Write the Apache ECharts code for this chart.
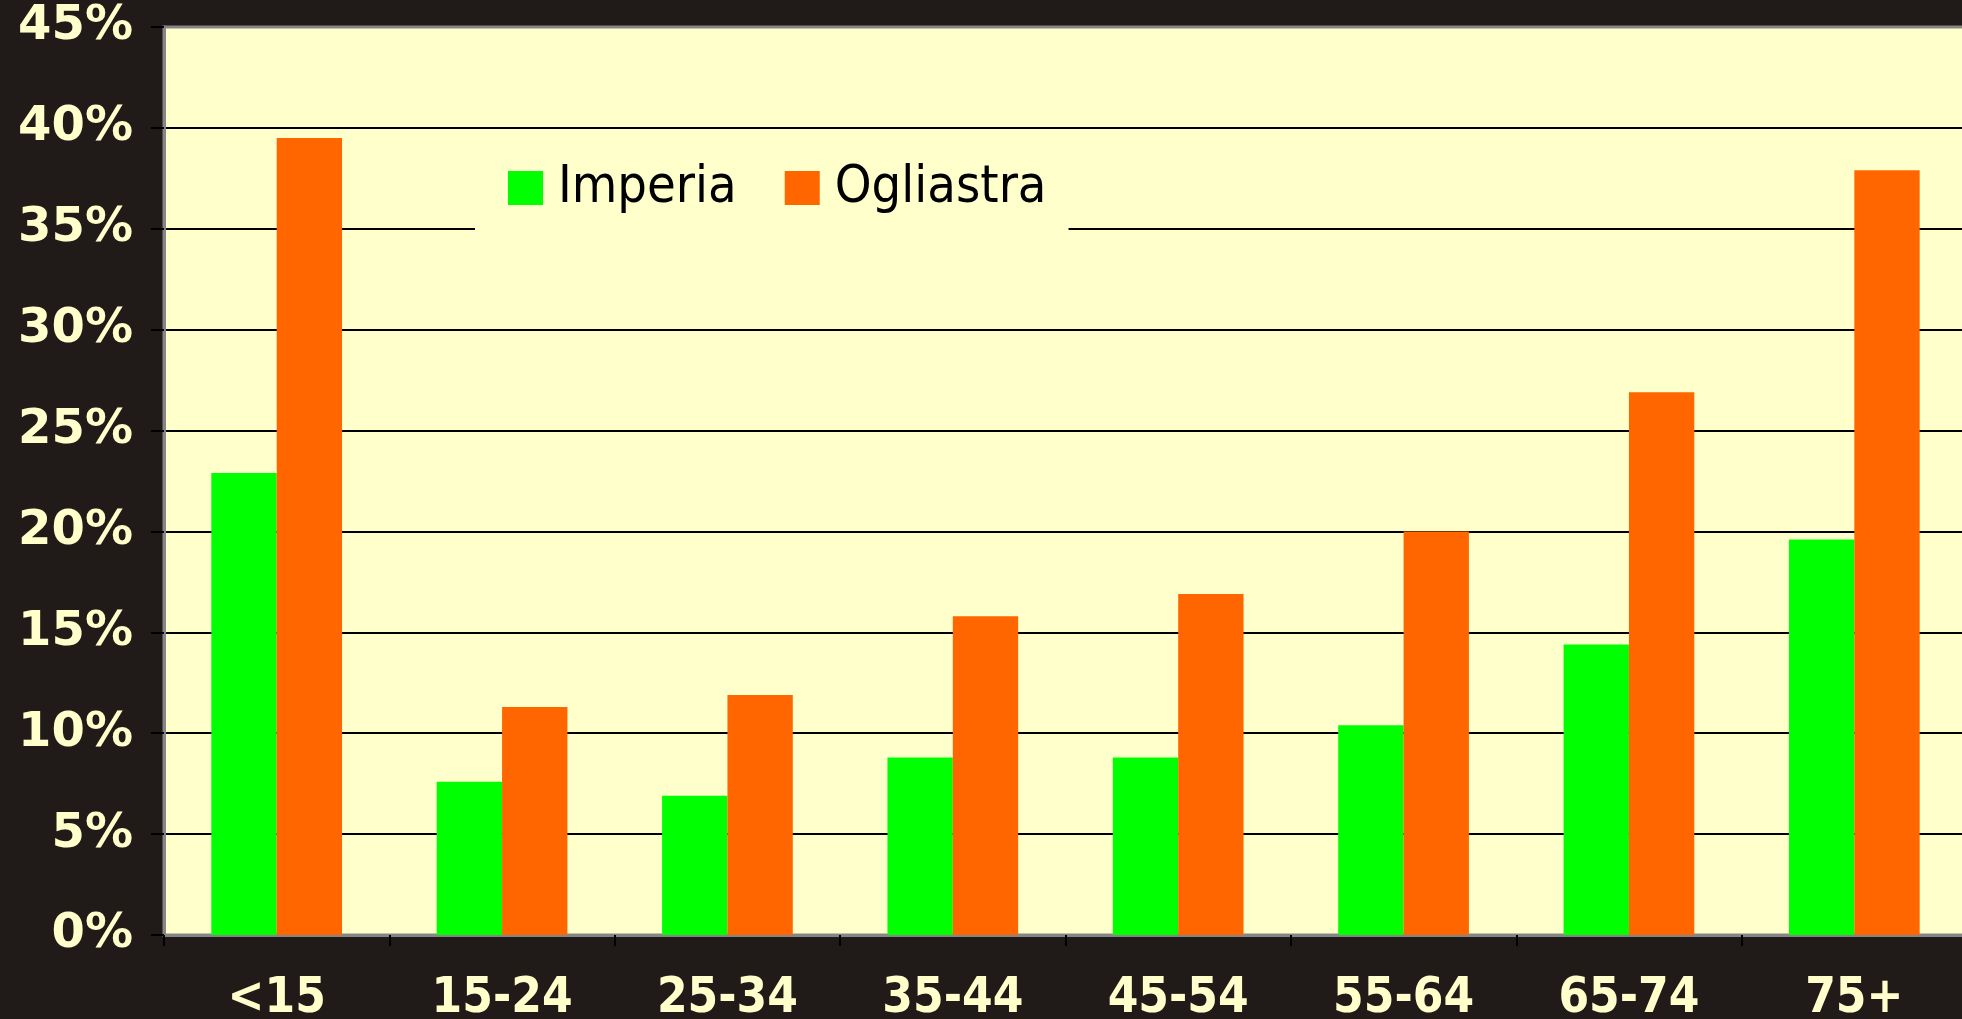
<!DOCTYPE html>
<html>
<head>
<meta charset="utf-8">
<title>Imperia / Ogliastra per classe di età</title>
<script src="https://cdn.jsdelivr.net/npm/echarts@6/dist/echarts.min.js"></script>
<style>
  html, body { margin: 0; padding: 0; background: #201b19; }
  #chart { width: 1962px; height: 1019px; }
</style>
</head>
<body>
<div id="chart"></div>
<script>
// Age classes on the category axis
const ageClasses = ['<15', '15-24', '25-34', '35-44', '45-54', '55-64', '65-74', '75+'];

// Shares per age class, in percent
const imperia   = [22.9, 7.6, 6.9, 8.8, 8.8, 10.4, 14.4, 19.6];
const ogliastra = [39.5, 11.3, 11.9, 15.8, 16.9, 20.0, 26.9, 37.9];

// Value axis range and step (percent)
const yMin = 0;
const yMax = 45;
const yStep = 5;

const chart = echarts.init(document.getElementById('chart'), null, { renderer: 'canvas' });

const labelColor = '#ffffcc';

chart.setOption({
  backgroundColor: '#201b19',
  animation: false,
  grid: {
    left: 164,
    top: 27,
    right: -5,
    bottom: 84,
    outerBoundsMode: 'none',
    containLabel: false,
    show: true,
    backgroundColor: '#ffffcc',
    borderColor: '#858585',
    borderWidth: 3
  },
  legend: {
    left: 475,
    top: 142,
    padding: [20, 22, 26, 33],
    backgroundColor: '#ffffcc',
    icon: 'rect',
    itemWidth: 35,
    itemHeight: 34,
    itemGap: 48,
    textStyle: {
      color: '#000000',
      fontFamily: '"DejaVu Sans Condensed", "DejaVu Sans", sans-serif',
      fontSize: 52,
      lineHeight: 40,
      padding: [0, 0, 0, 10]
    },
    data: ['Imperia', 'Ogliastra']
  },
  xAxis: {
    type: 'category',
    data: ageClasses,
    axisLine: { show: true, lineStyle: { color: '#858585', width: 3 } },
    axisTick: { show: true, length: 11, lineStyle: { color: '#000000', width: 2 } },
    axisLabel: {
      color: labelColor,
      fontFamily: '"DejaVu Sans Condensed", "DejaVu Sans", sans-serif',
      fontWeight: 'bold',
      fontSize: 49,
      margin: 40
    },
    splitLine: { show: false }
  },
  yAxis: {
    type: 'value',
    min: yMin,
    max: yMax,
    interval: yStep,
    axisLine: { show: true, lineStyle: { color: '#858585', width: 3 } },
    axisTick: { show: true, length: 13, lineStyle: { color: '#000000', width: 2 } },
    axisLabel: {
      color: labelColor,
      fontFamily: '"DejaVu Sans", sans-serif',
      fontWeight: 'bold',
      fontSize: 48,
      margin: 31,
      formatter: '{value}%'
    },
    splitLine: {
      show: true,
      showMinLine: false,
      showMaxLine: false,
      lineStyle: { color: '#000000', width: 2 }
    }
  },
  series: [
    {
      name: 'Imperia',
      type: 'bar',
      data: imperia,
      barGap: '0%',
      barCategoryGap: '42%',
      itemStyle: { color: '#00ff00' }
    },
    {
      name: 'Ogliastra',
      type: 'bar',
      data: ogliastra,
      barGap: '0%',
      barCategoryGap: '42%',
      itemStyle: { color: '#ff6600' }
    }
  ]
});
</script>
</body>
</html>
